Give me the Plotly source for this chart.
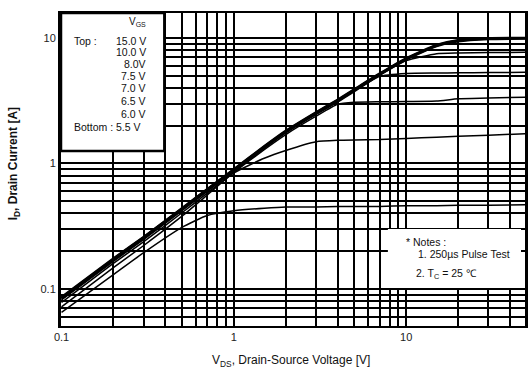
import plotly.graph_objects as go

# Drain-source voltage sample points [V]
vds = [0.1, 0.2, 0.3, 0.5, 0.7, 1.0, 1.5, 2.0, 3.0, 4.0, 5.0, 7.0, 10, 15, 20, 30, 50]

# Drain current [A] for each gate-source voltage
id_15_0 = [0.086, 0.175, 0.26, 0.44, 0.625, 0.9, 1.37, 1.82, 2.56, 3.22, 3.9, 5.2, 6.9, 8.8, 9.6, 9.95, 10.0]
id_10_0 = [0.085, 0.173, 0.258, 0.437, 0.62, 0.893, 1.36, 1.8, 2.53, 3.19, 3.86, 5.15, 6.83, 8.7, 9.5, 9.9, 9.97]
id_8_0 = [0.084, 0.171, 0.255, 0.433, 0.615, 0.886, 1.35, 1.79, 2.51, 3.16, 3.83, 5.1, 6.76, 8.6, 9.4, 9.8, 9.9]
id_7_5 = [0.083, 0.169, 0.252, 0.428, 0.61, 0.878, 1.33, 1.77, 2.49, 3.13, 3.79, 5.04, 6.6, 7.5, 7.6, 7.65, 7.7]
id_7_0 = [0.082, 0.166, 0.248, 0.42, 0.6, 0.868, 1.32, 1.75, 2.46, 3.09, 3.74, 4.95, 5.22, 5.26, 5.28, 5.3, 5.33]
id_6_5 = [0.078, 0.16, 0.238, 0.405, 0.58, 0.85, 1.29, 1.7, 2.38, 2.96, 3.07, 3.1, 3.12, 3.14, 3.28, 3.32, 3.38]
id_6_0 = [0.072, 0.148, 0.222, 0.38, 0.56, 0.84, 1.1, 1.27, 1.49, 1.53, 1.54, 1.55, 1.58, 1.62, 1.65, 1.68, 1.73]
id_5_5 = [0.065, 0.13, 0.195, 0.31, 0.385, 0.42, 0.44, 0.45, 0.45, 0.455, 0.455, 0.455, 0.46, 0.46, 0.465, 0.465, 0.47]

# Curves grouped by stroke width: the high-VGS curves overlap as one heavy band
heavy = [id_15_0, id_10_0, id_8_0]
light = [id_7_5, id_7_0, id_6_5, id_6_0, id_5_5]

# Labelled decades and the intermediate log grid lines
x_major = [0.1, 1, 10]
x_major_text = ["0.1", "1", "10"]
x_minor = [m * d for d in (0.1, 1, 10) for m in range(2, 10)]
y_major = [0.1, 1, 10]
y_major_text = ["0.1", "1", "10"]
y_minor = [m * d for d in (0.01, 0.1, 1) for m in range(2, 10)]

legend_vgs = ["15.0 V", "10.0 V", "8.0V", "7.5 V", "7.0 V", "6.5 V", "6.0 V"]

FONT = "Arial, Liberation Sans, sans-serif"


def joined(series):
    xs, ys = [], []
    for s in series:
        xs += vds + [None]
        ys += s + [None]
    return xs, ys


fig = go.Figure()
for group, width in ((heavy, 2.4), (light, 1.5)):
    gx, gy = joined(group)
    fig.add_trace(go.Scatter(
        x=gx, y=gy, mode="lines", connectgaps=False,
        line=dict(color="black", width=width, shape="spline", smoothing=0.5),
        showlegend=False, hoverinfo="skip",
    ))

grid_style = dict(showgrid=True, gridcolor="black", gridwidth=1.6)

fig.update_xaxes(
    type="log", range=[-1.003, 1.689],
    tickmode="array", tickvals=x_major, ticktext=x_major_text,
    minor=dict(tickmode="array", tickvals=x_minor, ticks="", **grid_style),
    ticks="", showline=True, linecolor="black", linewidth=2,
    mirror=True, zeroline=False,
    tickfont=dict(family=FONT, size=11, color="#222"),
    **grid_style,
)
fig.update_yaxes(
    type="log", range=[-1.295, 1.199],
    tickmode="array", tickvals=y_major, ticktext=y_major_text,
    minor=dict(tickmode="array", tickvals=y_minor, ticks="", **grid_style),
    ticks="", showline=True, linecolor="black", linewidth=3,
    mirror=True, zeroline=False,
    tickfont=dict(family=FONT, size=11, color="#222"),
    **grid_style,
)

# White panels holding the gate-voltage key and the test notes
fig.add_shape(type="rect", xref="paper", yref="paper",
              x0=0, x1=0.2227, y0=0.559, y1=1.0,
              fillcolor="white", line=dict(color="black", width=2.5), layer="above")
fig.add_shape(type="rect", xref="paper", yref="paper",
              x0=0.7045, x1=0.9914, y0=0.1214, y1=0.31,
              fillcolor="white", line=dict(width=0), layer="above")


def px_ann(x, y, text, anchor="left", size=10.5, **kw):
    fig.add_annotation(
        xref="paper", yref="paper",
        x=(x - 61) / 467, y=(326 - y) / 313,
        text=text, showarrow=False, xanchor=anchor, yanchor="middle",
        font=dict(family=FONT, size=size, color="#111"), **kw,
    )


# Gate-voltage key
px_ann(149, 22, "V<sub>GS</sub>", anchor="right", size=10)
px_ann(72, 41, "Top :")
ys = [41, 52, 64, 76, 88, 101, 114]
for yy, t in zip(ys, legend_vgs):
    px_ann(149, yy, t, anchor="right")
px_ann(72, 127, "Bottom : 5.5 V")

# Test conditions
px_ann(406, 242, "* Notes :")
px_ann(418, 254, "1. 250µs Pulse Test")
px_ann(416, 274, "2. T<sub>C</sub> = 25 ℃")

# Axis titles
px_ann(292, 361, "V<sub>DS</sub>, Drain-Source Voltage [V]", anchor="center", size=12)
fig.add_annotation(
    xref="paper", yref="paper", x=(14 - 61) / 467, y=(326 - 164) / 313,
    text="<b>I<sub>D</sub>, Drain Current [A]</b>", showarrow=False,
    textangle=-90, xanchor="center", yanchor="middle",
    font=dict(family=FONT, size=12, color="#111"),
)

fig.update_layout(
    width=528, height=369,
    margin=dict(l=61, r=0, t=13, b=43),
    paper_bgcolor="white", plot_bgcolor="white",
    showlegend=False,
)

fig.write_html("out.html")
